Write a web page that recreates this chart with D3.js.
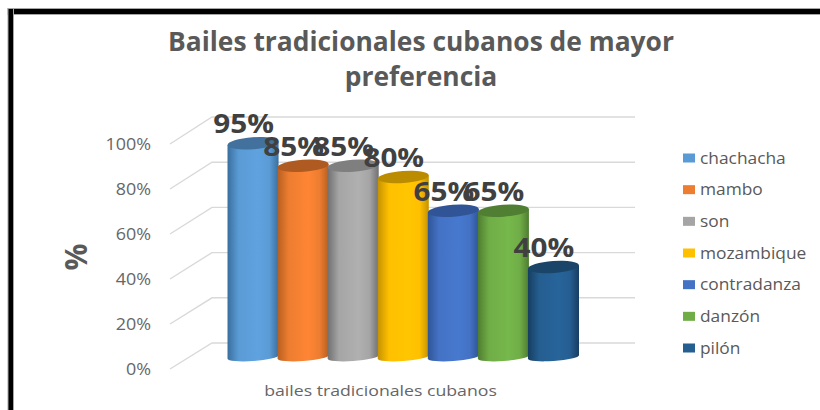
<!DOCTYPE html>
<html>
<head>
<meta charset="utf-8">
<script src="https://cdnjs.cloudflare.com/ajax/libs/d3/7.8.5/d3.min.js"></script>
<style>
  html, body { margin: 0; padding: 0; background: #fff; }
  svg { display: block; }
</style>
</head>
<body>
<svg id="chart" width="820" height="410"></svg>
<script>
const categories = ["chachacha", "mambo", "son", "mozambique", "contradanza", "danzón", "pilón"];
const seriesValues = [95, 85, 85, 80, 65, 65, 40];
const seriesColors = ["#5b9bd5", "#ed7d31", "#a5a5a5", "#ffc000", "#4472c4", "#70ad47", "#255e91"];
const edgeColors = ["#3a6f9e", "#b85f20", "#707070", "#c49200", "#2f5597", "#4f7d30", "#173e60"];
const brightColors = ["#5fa2e0", "#ff8534", "#b0b0b0", "#ffc600", "#4679cf", "#76b84b", "#27649a"];
const capColors = ["#41719c", "#ae5a21", "#7f7f7f", "#bc8c00", "#315497", "#507e32", "#1a4568"];
const axisTicks = [0, 20, 40, 60, 80, 100];
const titleLines = ["Bailes tradicionales cubanos de mayor", "preferencia"];
const axisTitle = "%";
const categoryTitle = "bailes tradicionales cubanos";

const svg = d3.select("#chart");
const sans = "'Open Sans', 'Noto Sans', sans-serif";

// Page frame: heavy black rules along the top and left edges only.
svg.append("rect").attr("width", 820).attr("height", 410).attr("fill", "#fff");
const frame = svg.append("g").attr("fill", "#000").attr("stroke", "#a6a6a6").attr("stroke-width", 1);
frame.append("rect").attr("x", 8).attr("y", 8.5).attr("width", 814).attr("height", 6);
frame.append("rect").attr("x", 8).attr("y", 8.5).attr("width", 5.5).attr("height", 404);

// Scales for the front plane (labels), the back wall (gridlines) and the cylinders.
const yFront = d3.scaleLinear().domain([0, 100]).range([369, 144]);
const yBack = d3.scaleLinear().domain([0, 100]).range([343, 117]);
const yBar = d3.scaleLinear().domain([0, 100]).range([357, 132]);
const xBar = d3.scaleBand().domain(categories).range([227.5, 578]).paddingInner(0).paddingOuter(0);

// Gridlines: floor-side diagonal, then the long run across the back wall.
const grid = svg.append("g").attr("fill", "none").attr("stroke", "#d9d9d9").attr("stroke-width", 1.4);
const gridLine = d3.line();
grid.selectAll("path").data(axisTicks).join("path")
  .attr("d", t => gridLine([[170, yFront(t)], [212, yBack(t)], [635, yBack(t)]]));

// Percent labels on the value axis.
const axis = d3.axisLeft(yFront).tickValues(axisTicks).tickFormat(t => t + "%").tickSize(0).tickPadding(0);
const axisGroup = svg.append("g").attr("transform", "translate(151,0)").call(axis);
axisGroup.select(".domain").remove();
axisGroup.selectAll("text")
  .attr("transform", "scale(1.12,1)")
  .attr("font-family", sans).attr("font-size", 16).attr("fill", "#666");

// Horizontal shading that makes each bar read as a cylinder.
const defs = svg.append("defs");
categories.forEach((c, i) => {
  const g = defs.append("linearGradient").attr("id", "shade" + i)
    .attr("x1", "0%").attr("x2", "100%").attr("y1", "0%").attr("y2", "0%");
  [[0, edgeColors[i]], [0.22, seriesColors[i]], [0.6, brightColors[i]], [0.82, seriesColors[i]], [1, edgeColors[i]]]
    .forEach(([o, col]) => g.append("stop").attr("offset", o).attr("stop-color", col));
});

// Cylinders: body with a shallow curved foot, then the tilted top cap.
const tilt = -4;
const bars = svg.append("g").selectAll("g").data(categories).join("g");
bars.each(function (c, i) {
  const w = xBar.bandwidth() + 1;
  const left = xBar(c);
  const rx = w / 2;
  const top = yBar(seriesValues[i]);
  const bottom = yBar(0);
  const dy = rx * Math.tan(-tilt * Math.PI / 180);
  const g = d3.select(this);
  g.append("path")
    .attr("d", `M${left},${top + dy} L${left},${bottom + dy} A${rx},4 ${tilt} 0 0 ${left + w},${bottom - dy} L${left + w},${top - dy} Z`)
    .attr("fill", `url(#shade${i})`);
  g.append("ellipse")
    .attr("cx", left + rx).attr("cy", top).attr("rx", rx).attr("ry", 6)
    .attr("transform", `rotate(${tilt} ${left + rx} ${top})`)
    .attr("fill", capColors[i]);
});

// Value labels sit above each cylinder and overlap their neighbours.
svg.append("g").selectAll("text").data(categories).join("text")
  .attr("transform", (c, i) =>
    `translate(${xBar(c) + xBar.bandwidth() / 2 - 9},${yBar(seriesValues[i]) - 10}) scale(1.1,1)`)
  .attr("text-anchor", "middle").attr("font-family", sans).attr("font-weight", 700)
  .attr("font-size", 27).attr("fill", "#404040")
  .text((c, i) => seriesValues[i] + "%");

// Chart title on two centred lines.
svg.append("g").selectAll("text").data(titleLines).join("text")
  .attr("x", 421).attr("y", (d, i) => 51 + i * 35)
  .attr("text-anchor", "middle").attr("font-family", sans).attr("font-weight", 700)
  .attr("font-size", 26.4).attr("fill", "#595959")
  .text(d => d);

// Axis titles.
svg.append("text").attr("transform", "translate(87,257) rotate(-90)")
  .attr("text-anchor", "middle").attr("font-family", sans).attr("font-weight", 700)
  .attr("font-size", 30).attr("fill", "#595959").text(axisTitle);
svg.append("text").attr("transform", "translate(380.5,396) scale(1.18,1)")
  .attr("text-anchor", "middle").attr("font-family", sans).attr("font-size", 15).attr("fill", "#666")
  .text(categoryTitle);

// Legend down the right-hand side.
const yLegend = d3.scalePoint().domain(categories).range([158, 348]);
const legend = svg.append("g").selectAll("g").data(categories).join("g")
  .attr("transform", c => `translate(683,${yLegend(c)})`);
legend.append("rect").attr("x", 0).attr("y", -4.5).attr("width", 12).attr("height", 9)
  .attr("fill", (c, i) => seriesColors[i]);
legend.append("text").attr("transform", "translate(17,5.5) scale(1.12,1)")
  .attr("font-family", sans).attr("font-size", 15.5).attr("fill", "#595959").text(c => c);
</script>
</body>
</html>
